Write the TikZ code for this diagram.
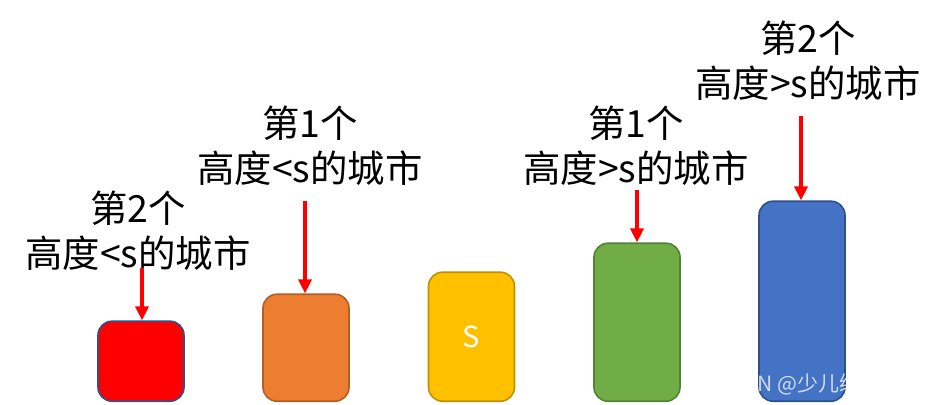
\documentclass[tikz,border=0pt]{standalone}
\usepackage{fontspec}
\newfontfamily\cjk{Noto Sans CJK SC}
\usetikzlibrary{arrows.meta}
\definecolor{cityred}{HTML}{FF0000}
\definecolor{cityorange}{HTML}{ED7D31}
\definecolor{cityyellow}{HTML}{FFC000}
\definecolor{citygreen}{HTML}{70AD47}
\definecolor{cityblue}{HTML}{4472C4}
\tikzset{
  city/.style={draw,line width=0.8pt,rounded corners=7pt,minimum width=43pt,anchor=south,inner sep=0pt},
  label/.style={align=center,font=\cjk\fontsize{18.7}{22.5}\selectfont},
  pointer/.style={draw=red,line width=1.6pt,-{Triangle[width=6.5pt,length=7pt]}}
}
\begin{document}
\begin{tikzpicture}[x=0.5pt,y=-0.5pt]
  \useasboundingbox (0,0) rectangle (948,404);
  % the cities, left to right
  \node[city,fill=cityred,draw=cityblue!70!black,minimum height=40pt] (c1) at (141,402) {};
  \node[city,fill=cityorange,draw=cityorange!75!black,minimum height=53.5pt] (c2) at (306,402) {};
  \node[city,fill=cityyellow,draw=cityyellow!75!black,minimum height=64.5pt,font=\cjk\fontsize{14.5}{16}\selectfont,text=white] (s) at (471.5,402) {S};
  \node[city,fill=citygreen,draw=citygreen!75!black,minimum height=79pt] (c4) at (637,402) {};
  \node[city,fill=cityblue,draw=cityblue!70!black,minimum height=100pt] (c5) at (802,402) {};

  \node[label] (l1) at (138,231) {第2个\\高度<s的城市};
  \node[label] (l2) at (310,146) {第1个\\高度<s的城市};
  \node[label] (l3) at (636,146) {第1个\\高度>s的城市};
  \node[label] (l4) at (808,61) {第2个\\高度>s的城市};

  \coordinate (p1) at (142,268);
  \coordinate (p2) at (305,201);
  \coordinate (p3) at (637,190);
  \coordinate (p4) at (801,116);
  \draw[pointer] (p1) -- (p1 |- c1.north);
  \draw[pointer] (p2) -- (p2 |- c2.north);
  \draw[pointer] (p3) -- (p3 |- c4.north);
  \draw[pointer] (p4) -- (p4 |- c5.north);

  \node[anchor=base west,text=white,text opacity=0.75,inner sep=0pt,font=\cjk\fontsize{10.5}{12}\selectfont] (wm) at (757,391) {N @少儿编};
\end{tikzpicture}
\end{document}
